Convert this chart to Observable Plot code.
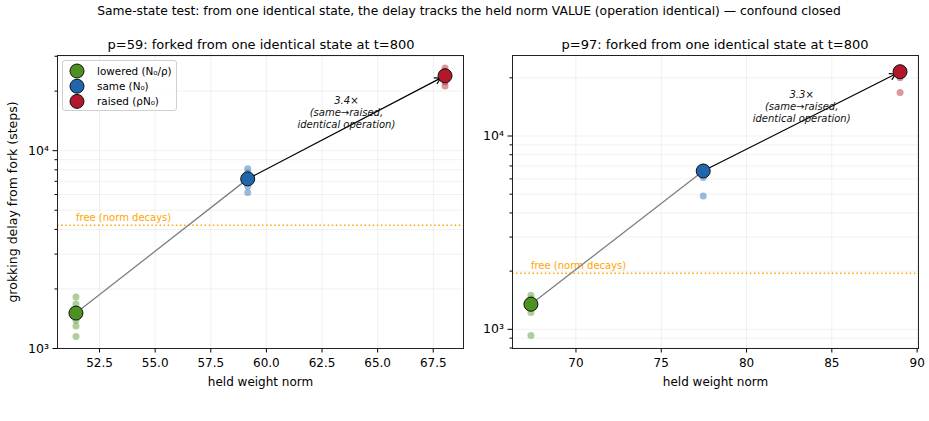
<!DOCTYPE html>
<html><head><meta charset="utf-8">
<script src="https://cdn.jsdelivr.net/npm/d3@7"></script>
<script src="https://cdn.jsdelivr.net/npm/@observablehq/plot@0.6"></script>
<style>
body{margin:0;background:#fff;font-family:"DejaVu Sans",sans-serif;}
#fig{position:relative;width:929px;height:421px;overflow:hidden;background:#fff;}
.abs{position:absolute;white-space:nowrap;color:#000;}
</style></head><body><div id="fig"></div>
<script>
// ---- data ----
const suptitle = "Same-state test: from one identical state, the delay tracks the held norm VALUE (operation identical) — confound closed";
const conditions = ["lowered (N₀/ρ)", "same (N₀)", "raised (ρN₀)"];
const condColors = ["#4d9221", "#2166ac", "#b2182b"];

const p59Title = "p=59: forked from one identical state at t=800";
const p59Norms = [51.44, 59.16, 68.03];
const p59Delay = [1510, 7200, 23900];
const p59Lowered = [1820, 1680, 1580, 1460, 1390, 1300, 1150];
const p59Same = [8100, 7700, 7000, 6600, 6150];
const p59Raised = [26200, 25200, 22300, 21200];
const p59Free = 4200;
const p59Ratio = "3.4×";
const p59XTicks = [52.5, 55.0, 57.5, 60.0, 62.5, 65.0, 67.5];

const p97Title = "p=97: forked from one identical state at t=800";
const p97Norms = [67.36, 77.46, 89.0];
const p97Delay = [1348, 6590, 21500];
const p97Lowered = [1500, 1440, 1380, 1300, 1220, 930];
const p97Same = [6900, 6700, 6100, 4900];
const p97Raised = [22500, 21500, 20000, 16800];
const p97Free = 1950;
const p97Ratio = "3.3×";
const p97XTicks = [70, 75, 80, 85, 90];

const yMajor = [1000, 10000];
const yMinorAll = [700, 800, 900, 2000, 3000, 4000, 5000, 6000, 7000, 8000, 9000, 20000, 30000];
const yLabel = "grokking delay from fork (steps)";
const xLabel = "held weight norm";
const freeLabel = "free (norm decays)";
const annotText = "(same→raised,\nidentical operation)";

// ---- layout ----
const fig = document.getElementById("fig");
function addText(txt, x, y, size, anchor) {
  const d = document.createElement("div");
  d.className = "abs";
  d.textContent = txt;
  d.style.fontSize = size + "px";
  d.style.left = x + "px";
  d.style.top = y + "px";
  d.style.transform = anchor === "center" ? "translate(-50%,-50%)" : "translate(0,-50%)";
  fig.appendChild(d);
}
addText(suptitle, 469, 11, 12.3, "center");
addText(p59Title, 261, 44, 13, "center");
addText(p97Title, 715, 44, 13, "center");

function panel(cfg) {
  const pts = [];
  [cfg.lowered, cfg.same, cfg.raised].forEach((arr, i) => arr.forEach(v => pts.push({x: cfg.norms[i], y: v, c: i})));
  const big = cfg.norms.map((n, i) => ({x: n, y: cfg.delay[i], c: i}));
  const minor = yMinorAll.filter(v => v >= cfg.yDomain[0] && v <= cfg.yDomain[1] && !yMajor.includes(v));
  const midX = (cfg.norms[1] + cfg.norms[2]) / 2;
  const midY = Math.sqrt(cfg.delay[1] * cfg.delay[2]);
  return Plot.plot({
    width: cfg.width, height: 368,
    marginLeft: cfg.ml, marginRight: cfg.mr, marginTop: 25, marginBottom: 50,
    style: {fontFamily: "DejaVu Sans, sans-serif", fontSize: "12px", background: "transparent"},
    x: {type: "linear", domain: cfg.xDomain},
    y: {type: "log", domain: cfg.yDomain},
    color: {type: "ordinal", domain: [0, 1, 2], range: condColors},
    marks: [
      Plot.gridY(yMajor.concat(minor), {stroke: "#000", strokeOpacity: 0.08, strokeWidth: 0.8}),
      Plot.gridX(cfg.xTicks, {stroke: "#000", strokeOpacity: 0.08, strokeWidth: 0.8}),
      Plot.ruleY([cfg.free], {stroke: "orange", strokeWidth: 1.5, strokeDasharray: "1.5,2.6"}),
      Plot.text([{x: cfg.norms[0], y: cfg.free}], {x: "x", y: "y", text: () => freeLabel, fill: "orange", fontSize: 10, textAnchor: "start", lineAnchor: "bottom", dy: -4}),
      Plot.line(big.slice(0, 2), {x: "x", y: "y", stroke: "gray", strokeWidth: 1.3}),
      Plot.arrow([{x1: big[1].x, y1: big[1].y, x2: big[2].x, y2: big[2].y}], {x1: "x1", y1: "y1", x2: "x2", y2: "y2", stroke: "black", strokeWidth: 1.2, headLength: 8, insetStart: 6, insetEnd: 5}),
      Plot.dot(pts, {x: "x", y: "y", fill: "c", r: 3.5, fillOpacity: 0.45}),
      Plot.dot(big, {x: "x", y: "y", fill: "c", r: 7, stroke: "#111", strokeWidth: 1}),
      Plot.text([{x: midX, y: midY}], {x: "x", y: "y", text: () => cfg.ratio + "\n" + annotText, fontSize: 10, fontStyle: "italic", lineHeight: 1.2, lineAnchor: "middle", dy: -15, fill: "#111"}),
      Plot.axisY(yMajor, {tickFormat: d => d === 1000 ? "10³" : "10⁴", tickSize: 4.5, tickPadding: 4, fontSize: 12.5, label: cfg.showYLabel ? yLabel : null, labelAnchor: "center", labelArrow: "none", labelOffset: 49}),
      Plot.axisY(minor, {tickFormat: () => "", tickSize: 2.5, label: null}),
      Plot.axisX(cfg.xTicks, {tickFormat: cfg.xFmt, tickSize: 4.5, tickPadding: 5, fontSize: 12, label: xLabel, labelAnchor: "center", labelArrow: "none", labelOffset: 37}),
      Plot.frame({stroke: "#222", strokeWidth: 1})
    ]
  });
}

function place(svg, left, top) {
  svg.style.position = "absolute";
  svg.style.left = left + "px";
  svg.style.top = top + "px";
  fig.appendChild(svg);
}

place(panel({width: 470, ml: 57, mr: 7, xDomain: [50.61, 68.86], yDomain: [1000, 30270],
  norms: p59Norms, delay: p59Delay, lowered: p59Lowered, same: p59Same, raised: p59Raised,
  free: p59Free, ratio: p59Ratio, xTicks: p59XTicks, xFmt: d3.format(".1f"), showYLabel: true}), 0, 30);
place(panel({width: 459, ml: 42, mr: 11, xDomain: [66.28, 90.08], yDomain: [795.6, 26090],
  norms: p97Norms, delay: p97Delay, lowered: p97Lowered, same: p97Same, raised: p97Raised,
  free: p97Free, ratio: p97Ratio, xTicks: p97XTicks, xFmt: d3.format("d"), showYLabel: false}), 470, 30);

// legend (left panel, upper left)
const lg = document.createElement("div");
lg.className = "abs";
lg.style.left = "62px"; lg.style.top = "60px";
lg.style.width = "113px"; lg.style.height = "49px";
lg.style.border = "1px solid #d0d0d0"; lg.style.borderRadius = "3px";
lg.style.background = "rgba(255,255,255,0.85)";
const ns = "http://www.w3.org/2000/svg";
const lsvg = document.createElementNS(ns, "svg");
lsvg.setAttribute("width", 113); lsvg.setAttribute("height", 49);
conditions.forEach((c, i) => {
  const cy = 10 + i * 15.2;
  const ci = document.createElementNS(ns, "circle");
  ci.setAttribute("cx", 14); ci.setAttribute("cy", cy); ci.setAttribute("r", 7);
  ci.setAttribute("fill", condColors[i]); ci.setAttribute("stroke", "#111"); ci.setAttribute("stroke-width", 1);
  lsvg.appendChild(ci);
  const t = document.createElementNS(ns, "text");
  t.setAttribute("x", 34); t.setAttribute("y", cy); t.setAttribute("dy", "0.35em");
  t.setAttribute("font-size", 10.4); t.setAttribute("font-family", "DejaVu Sans, sans-serif");
  t.textContent = c;
  lsvg.appendChild(t);
});
lg.appendChild(lsvg);
fig.appendChild(lg);
</script></body></html>
